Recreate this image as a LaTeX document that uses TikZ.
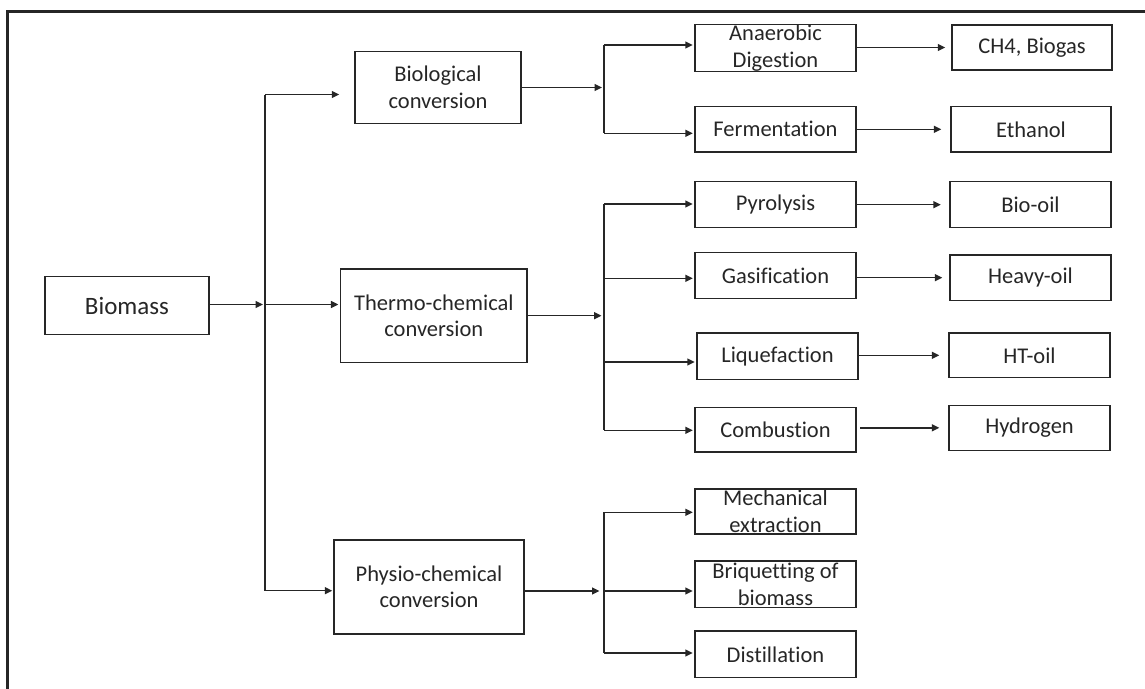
\documentclass[tikz,border=0pt]{standalone}
\usepackage{fontspec}
\setmainfont{Carlito}[Ligatures={NoCommon}]
\usetikzlibrary{arrows.meta,calc}
\definecolor{ink}{HTML}{262626}

\begin{document}
\begin{tikzpicture}[x=1pt,y=-1pt,
  box/.style={draw=ink, line width=1.5pt, rectangle, inner sep=0pt,
    align=center, text=ink, font=\fontsize{22.5}{26.5}\selectfont},
  midbox/.style={box, minimum width=161pt, minimum height=46pt},
  endbox/.style={box, minimum width=161pt, minimum height=45.5pt},
  wire/.style={draw=ink, line width=1.5pt},
  link/.style={wire, -{Triangle[length=7.5pt,width=7pt]}}
]
\useasboundingbox (0,0) rectangle (1145,688);

% outer frame, running off the right and bottom edges
\begin{scope}
  \clip (0,0) rectangle (1145,688);
  \draw[ink, line width=2.6pt] (7.5,11.7) rectangle (1200,750);
\end{scope}

% source and conversion routes
\node[box, minimum width=164pt, minimum height=57.6pt,
      font=\fontsize{25}{29}\selectfont] (biomass) at (127,305.5) {Biomass};
\node[box, minimum width=166pt, minimum height=72pt] (bio) at (438,87.5)
  {Biological\\conversion};
\node[box, minimum width=186.4pt, minimum height=93.3pt] (thermo) at (433.8,315.7)
  {Thermo-chemical\\conversion};
\node[box, minimum width=190pt, minimum height=94.3pt] (physio) at (429,587)
  {Physio-chemical\\conversion};

% processes
\node[midbox, minimum height=47.4pt] (anaerobic) at (775.5,48) {Anaerobic\\Digestion};
\node[midbox, minimum height=45.3pt] (ferment) at (775.5,129.3) {Fermentation};
\node[midbox, minimum height=45.6pt] (pyro) at (775.5,204.5) {Pyrolysis};
\node[midbox, minimum height=45.6pt] (gasif) at (775.5,275.5) {Gasification};
\node[midbox, minimum height=46.3pt] (lique) at (777.5,356.2) {Liquefaction};
\node[midbox, minimum height=44.7pt] (combust) at (775.5,429.7) {Combustion};
\node[midbox, minimum height=45pt] (mech) at (775.5,511.5) {Mechanical\\extraction};
\node[midbox, minimum height=46.7pt] (briq) at (775.5,584.3) {Briquetting of\\biomass};
\node[midbox, minimum height=46.7pt] (distil) at (775.5,654.3) {Distillation};

% products
\node[endbox, minimum width=160pt, minimum height=45pt] (ch4) at (1032,47.5) {CH4, Biogas};
\node[endbox, minimum width=160pt] (ethanol) at (1031,129.3) {Ethanol};
\node[endbox, minimum height=46pt] (biooil) at (1030.5,204.7) {Bio-oil};
\node[endbox] (heavy) at (1030.5,277.7) {Heavy-oil};
\node[endbox, minimum height=44.7pt] (htoil) at (1029.5,355.3) {HT-oil};
\node[endbox, minimum height=45pt] (hydrogen) at (1029.5,427.8) {Hydrogen};

% main trunk
\coordinate (tTop) at (265,94.5);
\coordinate (tMid) at (265,304.5);
\coordinate (tBot) at (265,590.7);
\draw[wire] (tTop) -- (tBot);
\draw[link, shorten >=2pt] (biomass.east |- tMid) -- (tMid);
\draw[link, shorten >=15pt] (tTop) -- (tTop -| bio.west);
\draw[link, shorten >=1.5pt] (tMid) -- (tMid -| thermo.west);
\draw[link, shorten >=1pt] (tBot) -- (tBot -| physio.west);

% biological branch
\coordinate (bA) at (604,45);
\coordinate (bF) at (604,133.3);
\draw[link, shorten >=2pt] (bio.east) -- (bio.east -| bA);
\draw[wire] (bA) -- (bF);
\draw[link, shorten >=1.5pt] (bA) -- (bA -| anaerobic.west);
\draw[link, shorten >=1.5pt] (bF) -- (bF -| ferment.west);

% thermo-chemical branch
\coordinate (tP) at (604,204);
\coordinate (tG) at (604,278.3);
\coordinate (tL) at (604,362);
\coordinate (tC) at (604,430.3);
\draw[link, shorten >=2.5pt] (thermo.east) -- (thermo.east -| tP);
\draw[wire] (tP) -- (tC);
\draw[link, shorten >=1.5pt] (tP) -- (tP -| pyro.west);
\draw[link, shorten >=1.5pt] (tG) -- (tG -| gasif.west);
\draw[link, shorten >=1.5pt] (tL) -- (tL -| lique.west);
\draw[link, shorten >=1.5pt] (tC) -- (tC -| combust.west);

% physio-chemical branch
\coordinate (pM) at (604,512.3);
\coordinate (pB) at (604,591);
\coordinate (pD) at (604,653);
\draw[link, shorten >=4.5pt] (physio.east |- pB) -- (pB);
\draw[wire] (pM) -- (pD);
\draw[link, shorten >=1.5pt] (pM) -- (pM -| mech.west);
\draw[link, shorten >=1.5pt] (pB) -- (pB -| briq.west);
\draw[link, shorten >=1.5pt] (pD) -- (pD -| distil.west);

% process to product
\draw[link, shorten >=6pt] (anaerobic.east |- ch4.west) -- (ch4.west);
\draw[link, shorten >=9pt] (ferment.east |- ethanol.west) -- (ethanol.west);
\draw[link, shorten >=8.5pt] (pyro.east |- biooil.west) -- (biooil.west);
\draw[link, shorten >=7pt] (gasif.east |- heavy.west) -- (heavy.west);
\draw[link, shorten >=9pt] (lique.east |- htoil.west) -- (htoil.west);
\draw[link, shorten <=3.5pt, shorten >=9pt] (combust.east |- hydrogen.west) -- (hydrogen.west);
\end{tikzpicture}
\end{document}
